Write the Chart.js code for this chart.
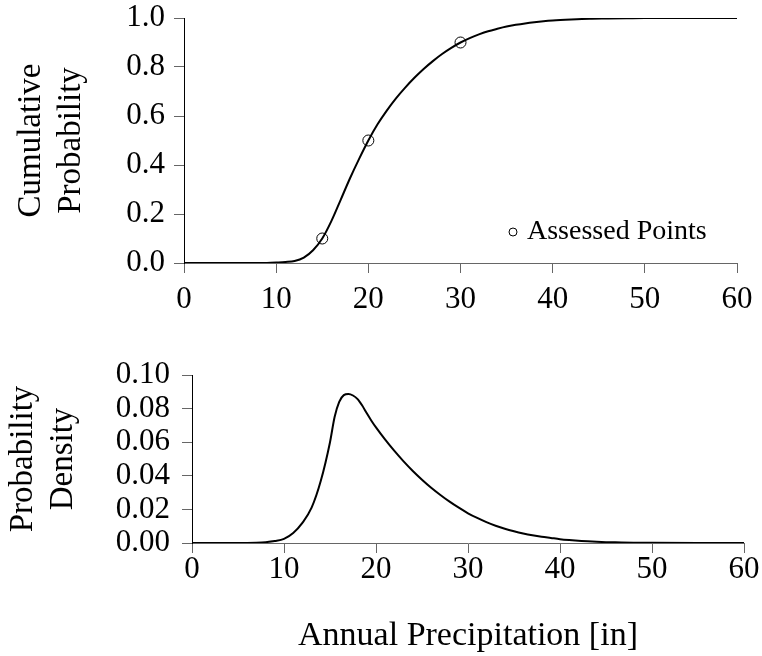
<!DOCTYPE html>
<html>
<head>
<meta charset="utf-8">
<script src="https://cdn.jsdelivr.net/npm/chart.js@4.4.1/dist/chart.umd.min.js"></script>
<style>
  html, body { margin: 0; padding: 0; background: #fff; }
  #wrap { position: relative; width: 762px; height: 656px; }
  .panel { position: absolute; left: 0; }
</style>
</head>
<body>
<div id="wrap">
  <div class="panel" style="top:0"><canvas id="cdfChart" width="762" height="330"></canvas></div>
  <div class="panel" style="top:330px"><canvas id="pdfChart" width="762" height="326"></canvas></div>
</div>
<script>
// values
const cdfX = [0, 5, 8, 9, 10, 11, 12, 13, 14, 15, 16, 17, 18, 19, 20, 21, 22, 23, 24, 25, 26, 27, 28, 29, 30,
              31, 32, 33, 34, 35, 36, 37, 38, 39, 40, 42, 44, 46, 48, 50, 55, 60];
const cdfY = [0, 0, 0, 0.0005, 0.002, 0.004, 0.008, 0.022, 0.052, 0.100, 0.172, 0.258, 0.345, 0.425, 0.500,
              0.566, 0.622, 0.672, 0.716, 0.756, 0.792, 0.824, 0.853, 0.878, 0.900, 0.918, 0.933, 0.946,
              0.956, 0.965, 0.972, 0.978, 0.983, 0.987, 0.990, 0.994, 0.997, 0.998, 0.999, 1.0, 1.0, 1.0];

const assessedX = [15, 20, 30];
const assessedY = [0.1, 0.5, 0.9];

const pdfX = [0, 5, 7, 8, 9, 10, 11, 12, 13, 14, 15, 15.5, 16, 16.5, 17, 17.5, 18, 18.5, 19, 19.5, 20, 21, 22,
              23, 24, 25, 26, 27, 28, 29, 30, 31, 32, 33, 34, 35, 36, 37, 38, 39, 40, 41, 42, 43, 44, 45,
              46, 48, 50, 55, 60];
const pdfY = [0, 0, 0.0002, 0.0005, 0.0012, 0.0025, 0.006, 0.012, 0.021, 0.037, 0.060, 0.075, 0.084, 0.0880,
              0.0887, 0.0878, 0.0856, 0.0818, 0.0772, 0.0728, 0.0688, 0.0615, 0.0548, 0.0486, 0.0429,
              0.0377, 0.0329, 0.0286, 0.0246, 0.0210, 0.0177, 0.0149, 0.0124, 0.0103, 0.0085, 0.0070,
              0.0057, 0.0046, 0.0037, 0.0030, 0.0023, 0.0018, 0.0014, 0.0010, 0.0007, 0.0005, 0.0004,
              0.0002, 0.0001, 0, 0];

const xTicks = [0, 10, 20, 30, 40, 50, 60];
const cdfTicks = [0, 0.2, 0.4, 0.6, 0.8, 1.0];
const pdfTicks = [0, 0.02, 0.04, 0.06, 0.08, 0.10];

const FONT = "'Liberation Serif', 'Times New Roman', serif";
const TICK_COLOR = '#666';

const toPoints = (xs, ys) => xs.map((x, i) => ({ x: x, y: ys[i] }));

// small legend in the lower right of the plot
const cornerLegend = {
    id: 'cornerLegend',
    afterDraw(chart) {
        const ds = chart.data.datasets.find(d => d.showInLegend);
        if (!ds) return;
        const { ctx, chartArea } = chart;
        const cy = chartArea.bottom - 31;
        ctx.save();
        ctx.beginPath();
        ctx.arc(chartArea.right - 224, cy, 4, 0, Math.PI * 2);
        ctx.strokeStyle = '#000';
        ctx.lineWidth = 1;
        ctx.stroke();
        ctx.fillStyle = '#000';
        ctx.font = '28px ' + FONT;
        ctx.textBaseline = 'middle';
        ctx.fillText(ds.label, chartArea.right - 210, cy);
        ctx.restore();
    }
};

function axisX(title, height, labelPad) {
    return {
        type: 'linear',
        min: 0,
        max: 60,
        afterBuildTicks: s => { s.ticks = xTicks.map(v => ({ value: v })); },
        afterFit: s => { s.height = height; },
        grid: { drawOnChartArea: false, tickLength: 10, color: TICK_COLOR },
        border: { color: TICK_COLOR },
        ticks: { color: '#000', padding: labelPad, maxRotation: 0, autoSkip: false, font: { family: FONT, size: 31 } },
        title: {
            display: !!title,
            text: title,
            color: '#000',
            padding: { top: 0, bottom: 0 },
            font: { family: FONT, size: 34 }
        }
    };
}

function axisY(max, tickValues, digits, title, width, titlePad, labelPad) {
    return {
        type: 'linear',
        min: 0,
        max: max,
        afterBuildTicks: s => { s.ticks = tickValues.map(v => ({ value: v })); },
        afterFit: s => { s.width = width; s.paddingTop = 0; s.paddingBottom = 0; },
        grid: { drawOnChartArea: false, tickLength: 10, color: TICK_COLOR },
        border: { color: '#000' },
        ticks: {
            color: '#000',
            padding: labelPad,
            autoSkip: false,
            font: { family: FONT, size: 31 },
            callback: v => v.toFixed(digits)
        },
        title: {
            display: true,
            text: title,
            color: '#000',
            padding: { top: titlePad, bottom: 0 },
            font: { family: FONT, size: 33, lineHeight: 1.2 }
        }
    };
}

new Chart(document.getElementById('cdfChart'), {
    type: 'scatter',
    data: {
        datasets: [
            {
                label: 'CDF',
                data: toPoints(cdfX, cdfY),
                showLine: true,
                borderColor: '#000',
                borderWidth: 2,
                pointRadius: 0,
                cubicInterpolationMode: 'monotone'
            },
            {
                label: 'Assessed Points',
                showInLegend: true,
                data: toPoints(assessedX, assessedY),
                showLine: false,
                pointRadius: 5.5,
                pointBorderWidth: 1,
                pointBorderColor: '#000',
                pointBackgroundColor: 'rgba(0,0,0,0)'
            }
        ]
    },
    options: {
        responsive: false,
        animation: false,
        layout: { padding: { top: 18, right: 25, left: 0, bottom: 0 } },
        plugins: { legend: { display: false }, tooltip: { enabled: false } },
        scales: {
            x: axisX('', 67, 8),
            y: axisY(1.0, cdfTicks, 1, ['Cumulative', 'Probability'], 184, 12, 9)
        }
    },
    plugins: [cornerLegend]
});

new Chart(document.getElementById('pdfChart'), {
    type: 'scatter',
    data: {
        datasets: [
            {
                label: 'PDF',
                data: toPoints(pdfX, pdfY),
                showLine: true,
                borderColor: '#000',
                borderWidth: 2,
                pointRadius: 0,
                cubicInterpolationMode: 'monotone'
            }
        ]
    },
    options: {
        responsive: false,
        animation: false,
        layout: { padding: { top: 45, right: 18, left: 0, bottom: 0 } },
        plugins: { legend: { display: false }, tooltip: { enabled: false } },
        scales: {
            x: axisX('Annual Precipitation [in]', 113, -2),
            y: axisY(0.10, pdfTicks, 2, ['Probability', 'Density'], 192, 4, 12)
        }
    }
});
</script>
</body>
</html>
